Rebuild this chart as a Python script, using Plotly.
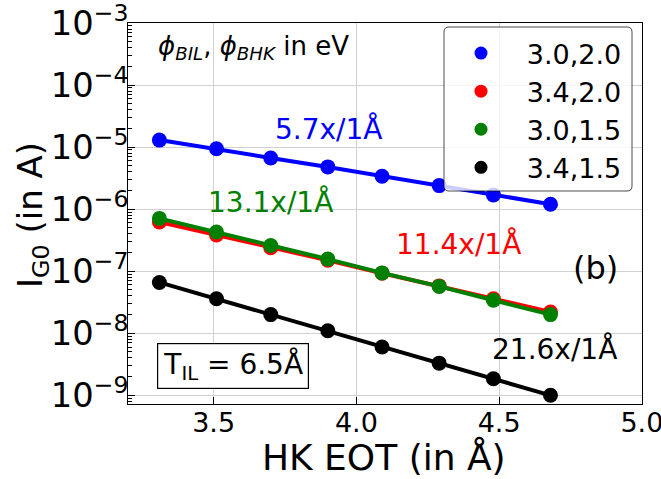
import plotly.graph_objects as go

# ---- data ----
hk_eot = [3.31, 3.51, 3.70, 3.90, 4.09, 4.29, 4.48, 4.68]
series_names = ["3.0,2.0", "3.4,2.0", "3.0,1.5", "3.4,1.5"]
series_colors = ["blue", "red", "green", "black"]
ig0_30_20 = [1.30e-5, 9.4e-6, 6.7e-6, 4.8e-6, 3.4e-6, 2.4e-6, 1.7e-6, 1.2e-6]
ig0_34_20 = [6.2e-7, 3.85e-7, 2.4e-7, 1.5e-7, 9.3e-8, 5.8e-8, 3.6e-8, 2.2e-8]
ig0_30_15 = [7.1e-7, 4.3e-7, 2.6e-7, 1.57e-7, 9.4e-8, 5.7e-8, 3.4e-8, 2.0e-8]
ig0_34_15 = [6.6e-8, 3.6e-8, 2.0e-8, 1.1e-8, 6.0e-9, 3.3e-9, 1.85e-9, 1.0e-9]
series_values = [ig0_30_20, ig0_34_20, ig0_30_15, ig0_34_15]
x_ticks = [3.5, 4.0, 4.5, 5.0]

W, H = 661, 479
L, R, T, B = 128, 642, 23, 404
FONT = "DejaVu Sans"


def px(x):
    return (x - L) / (R - L)


def py(y):
    return (B - y) / (B - T)


fig = go.Figure()
for name, color, vals in zip(series_names, series_colors, series_values):
    fig.add_trace(go.Scatter(
        x=hk_eot, y=vals, mode="lines+markers", showlegend=False,
        line=dict(color=color, width=4),
        marker=dict(color=color, size=15),
    ))
# legend entries (markers only)
for name, color in zip(series_names, series_colors):
    fig.add_trace(go.Scatter(
        x=[None], y=[None], mode="markers", name="\u00a0" * 3 + name,
        marker=dict(color=color, size=13),
    ))

# rounded legend frame
x0, x1, y0, y1 = 444, 632, 27, 191
r = 5
rx = r / (R - L)
ry = r / (B - T)
X0, X1, Y0, Y1 = px(x0), px(x1), py(y1), py(y0)
path = (f"M {X0+rx},{Y0} L {X1-rx},{Y0} Q {X1},{Y0} {X1},{Y0+ry} "
        f"L {X1},{Y1-ry} Q {X1},{Y1} {X1-rx},{Y1} L {X0+rx},{Y1} "
        f"Q {X0},{Y1} {X0},{Y1-ry} L {X0},{Y0+ry} Q {X0},{Y0} {X0+rx},{Y0} Z")
fig.add_shape(type="path", path=path, xref="paper", yref="paper",
              fillcolor="rgba(255,255,255,0.8)",
              line=dict(color="rgba(0,0,0,0.7)", width=1), layer="above")

ann_font = dict(family=FONT, size=28)
annotations = [
    dict(x=px(156), y=py(47), xanchor="left", yanchor="middle",
         text="<i>ϕ</i><sub><i>BIL</i></sub>, <i>ϕ</i><sub><i>BHK</i></sub> in eV",
         font=dict(family=FONT, size=26, color="black")),
    dict(x=px(329), y=py(129), text="5.7x/1Å", font=dict(ann_font, color="blue")),
    dict(x=px(270), y=py(202), text="13.1x/1Å", font=dict(ann_font, color="green")),
    dict(x=px(458), y=py(244), text="11.4x/1Å", font=dict(ann_font, color="red")),
    dict(x=px(554), y=py(349), text="21.6x/1Å", font=dict(ann_font, color="black")),
    dict(x=px(595), y=py(268), text="(b)", font=dict(family=FONT, size=32, color="black")),
    dict(x=px(233), y=py(365.5), text="T<sub>IL</sub> = 6.5Å",
         font=dict(ann_font, color="black"), bordercolor="black", borderwidth=1.2,
         borderpad=3, width=144, height=38, bgcolor="white"),
    dict(x=px(383.5), y=py(457), text="HK EOT (in Å)",
         font=dict(family=FONT, size=36, color="black")),
    dict(x=px(32), y=py(215), text="I<sub>G0</sub> (in A)", textangle=-90,
         font=dict(family=FONT, size=34, color="black")),
]
for a in annotations:
    a.setdefault("xref", "paper")
    a.setdefault("yref", "paper")
    a.setdefault("xanchor", "center")
    a.setdefault("yanchor", "middle")
    a.setdefault("showarrow", False)
    fig.add_annotation(**a)

fig.update_layout(
    width=W, height=H,
    margin=dict(l=L, r=W - R, t=T, b=H - B, autoexpand=False),
    paper_bgcolor="white", plot_bgcolor="white",
    font=dict(family=FONT, color="black"),
    legend=dict(x=px(461), y=py(29), xanchor="left", yanchor="top",
                bgcolor="rgba(0,0,0,0)", borderwidth=0,
                font=dict(family=FONT, size=27, color="black"),
                tracegroupgap=0),
)
fig.update_xaxes(
    range=[3.2, 5.0005], tickvals=x_ticks, ticktext=[f"{v:.1f}" for v in x_ticks],
    showline=True, linecolor="black", linewidth=1.2, mirror=True,
    ticks="inside", ticklen=7, tickcolor="black", automargin=False,
    showgrid=True, gridcolor="#d0d0d0", gridwidth=1, zeroline=False,
    tickfont=dict(family=FONT, size=27, color="black"),
    ticklabeloverflow="allow", ticklabelstandoff=-6,
)
fig.update_yaxes(
    type="log", range=[-9.14, -2.999], dtick=1, exponentformat="power",
    showline=True, linecolor="black", linewidth=1.2, mirror=True,
    ticks="inside", ticklen=7, tickcolor="black", automargin=False,
    minor=dict(ticks="inside", ticklen=4, tickcolor="black", dtick="D1", showgrid=False),
    showgrid=True, gridcolor="#d0d0d0", gridwidth=1, zeroline=False,
    tickfont=dict(family=FONT, size=27, color="black"),
    ticklabeloverflow="allow", ticklabelstandoff=-7,
)

fig.write_html("out.html")
